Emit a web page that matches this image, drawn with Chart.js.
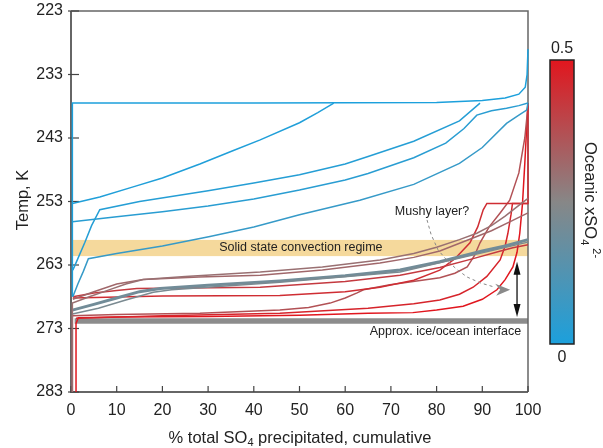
<!DOCTYPE html>
<html>
<head>
<meta charset="utf-8">
<script src="https://cdn.jsdelivr.net/npm/chart.js@4.4.1/dist/chart.umd.min.js"></script>
<style>
  html, body { margin: 0; padding: 0; background: #fff; }
  #wrap { width: 603px; height: 448px; }
</style>
</head>
<body>
<div id="wrap"><canvas id="chart" width="603" height="448"></canvas></div>
<script>
// axis ticks
const xTicks = [0, 10, 20, 30, 40, 50, 60, 70, 80, 90, 100];
const yTicks = [223, 233, 243, 253, 263, 273, 283];

// cooling paths: [% SO4 precipitated, temperature K]
const blue1 = [[0.3,268],[0.3,237.5],[40,237.5],[80,237.4],[90,237.1],[95,236.7],[98,236.1],[99.4,235],[99.8,233],[100,229]];
const blue2 = [[0.3,253.3],[6.3,252.3],[13.6,250.7],[20,249.3],[28.2,247.1],[35.4,245],[41.4,243.3],[50,240.6],[54,239],[57.5,237.5]];
const blue3 = [[0.4,263.8],[1.5,262],[3,259.5],[4.5,256.8],[6.3,254.3],[15,253],[30,251.3],[40,250.1],[50,248.8],[60,247.1],[65,245.9],[75,243.5],[85,240.3],[89.5,237.5]];
const blue4 = [[0.3,256.2],[10,255.4],[20,254.6],[30,253.7],[40,252.6],[50,251.2],[60,249.6],[65,248.6],[75,246.1],[82,243.8],[86,241.5],[88.8,239.4],[92,238.7],[95.3,238.3],[98,237.9],[100,237.5]];
const blue5 = [[0.4,268],[1.5,266],[2.7,264],[3.8,262],[10,261.2],[20,260],[30.4,258.5],[40,257],[50,255.1],[63.2,252.8],[75,250.3],[85,247],[90,244.5],[95.3,240.7],[98,239.4],[99.7,238.6],[100,237.5]];
const grey1 = [[0.3,283],[0.3,269],[4,268],[8,267],[12,266],[15.8,265.3],[25,264.8],[41.4,264.1],[55,263.3],[67.6,262.2],[75,261.2],[80,260.2],[85,259],[88.8,258],[92,256.8],[95,255.3],[98,253.6],[100,252.5]];
const grey2 = [[0.4,268.4],[5,267.2],[10,266],[15.8,265.3],[28,264.9],[41.4,264.6],[55,263.8],[67.6,262.7],[75,261.8],[80.7,260.8],[86.7,259.1],[92,257.6],[96,256.2],[100,254.8]];
const grey3 = [[0.3,270.7],[6,269.8],[12,268.5],[18,267.3],[22,266.9],[45.7,265.7],[72,264.1],[100,259.4]];
const grey4 = [[0.3,270.1],[5,269.2],[10,268.2],[15,267.2],[19.5,266.7],[30,266.2],[45.7,265.5],[60,264.7],[72,263.8],[80.7,262.5],[90,260.8],[95,260],[100,259]];
const red1 = [[0.4,268],[5,267.4],[10,267],[14.4,266.7],[41.4,266.5],[60,265.6],[72,264.6],[80.7,263.4],[88,262],[94,260.8],[96.7,260.3],[100,259.8]];
const red2 = [[0.4,268.2],[20,267.9],[45.7,267.8],[60,267.2],[67.6,266.5],[75,265.4],[80.7,263.8],[84,262],[87.3,259.5],[89,257],[90.2,254.3],[91,253.3],[100,253.3],[100,237.5]];
const red3 = [[0.3,283],[0.3,271],[10,270.8],[28.2,270.6],[45.7,270.1],[52,269.7],[56.7,269],[60,268.2],[62.6,267.4],[64,266.9],[69.8,266.1],[80.7,265],[84,264.3],[86.7,263.3],[88.3,261.5],[89.5,259.5],[91.5,257],[93.9,254.8],[96,252.8],[98,248.5],[99.3,243],[100,238]];
const red4 = [[1.1,271.4],[20,271],[45.7,270.6],[65,269.8],[75,269.1],[80.7,268.5],[85,267.6],[88,266.5],[91,264.8],[93.9,262.2],[95,260],[95.6,258],[96.3,255],[96.6,253.3],[100,253.3]];
const red5 = [[1.1,283],[1.1,272.2],[1.6,271.3],[10,271.2],[30,271.1],[50,270.9],[65,270.6],[74.8,270.5],[80,270.1],[85.8,269.5],[90,268.4],[93.2,266.9],[95,265.3],[96.7,263.3],[97.6,261],[98.2,258],[98.8,253.3],[99.3,247],[99.7,241.5],[100,237.5]];

const paths = [blue1, blue2, blue3, blue4, blue5, grey1, grey2, grey3, grey4, red1, red2, red3, red4, red5];
// oceanic xSO4 of each path
const xso4 = [0, 0.01, 0.02, 0.03, 0.06, 0.3, 0.32, 0.22, 0.2, 0.42, 0.45, 0.37, 0.47, 0.5];

const BLUE = [28, 160, 220], GREY = [135, 135, 135], RED = [225, 22, 30];
function colourFor(v) {
  let a, b, t;
  if (v <= 0.25) { a = BLUE; b = GREY; t = v / 0.25; }
  else { a = GREY; b = RED; t = (v - 0.25) / 0.25; }
  const c = a.map((ch, i) => Math.round(ch + (b[i] - ch) * t));
  return `rgb(${c[0]},${c[1]},${c[2]})`;
}

const FONT = "'Liberation Sans', Arial, sans-serif";

const datasets = paths.map((p, i) => ({
  data: p.map(([x, y]) => ({ x, y })),
  showLine: true,
  borderColor: colourFor(xso4[i]),
  borderWidth: paths[i] === grey4 ? 3 : 1.5,
  pointRadius: 0,
  tension: 0,
  clip: 4
}));

function drawArrowHead(ctx, x, y, dir, len, half) {
  ctx.beginPath();
  ctx.moveTo(x, y);
  ctx.lineTo(x - half, y - dir * len);
  ctx.lineTo(x + half, y - dir * len);
  ctx.closePath();
  ctx.fill();
}

const decor = {
  id: 'decor',
  beforeDatasetsDraw(chart) {
    const { ctx, chartArea: a, scales: { x, y } } = chart;
    ctx.save();
    // convection band
    const b1 = y.getPixelForValue(259.05), b2 = y.getPixelForValue(261.6);
    ctx.fillStyle = '#f5d99c';
    ctx.fillRect(a.left, b1, a.right - a.left, b2 - b1);
    // ice/ocean interface
    ctx.strokeStyle = '#8c8c8c';
    ctx.lineWidth = 5.5;
    ctx.beginPath();
    ctx.moveTo(x.getPixelForValue(0.8), y.getPixelForValue(271.8));
    ctx.lineTo(a.right, y.getPixelForValue(271.8));
    ctx.stroke();
    // frame
    ctx.strokeStyle = '#666';
    ctx.lineWidth = 1.5;
    ctx.beginPath();
    ctx.moveTo(a.left, a.top);
    ctx.lineTo(a.right, a.top);
    ctx.lineTo(a.right, a.bottom);
    ctx.stroke();
    ctx.lineWidth = 2;
    ctx.beginPath();
    ctx.moveTo(a.left, a.top);
    ctx.lineTo(a.left, a.bottom);
    ctx.lineTo(a.right, a.bottom);
    ctx.stroke();
    // ticks
    ctx.strokeStyle = '#444';
    ctx.lineWidth = 1.2;
    yTicks.forEach(v => {
      const py = y.getPixelForValue(v);
      ctx.beginPath(); ctx.moveTo(a.left - 3, py); ctx.lineTo(a.left + 8, py); ctx.stroke();
    });
    xTicks.forEach(v => {
      const px = x.getPixelForValue(v);
      ctx.beginPath(); ctx.moveTo(px, a.bottom); ctx.lineTo(px, a.bottom - 6); ctx.stroke();
    });
    ctx.restore();
  },
  afterDatasetsDraw(chart) {
    const { ctx, chartArea: a, scales: { x, y } } = chart;
    const P = (vx, vy) => [x.getPixelForValue(vx), y.getPixelForValue(vy)];
    ctx.save();
    ctx.fillStyle = '#222';
    ctx.font = `12.5px ${FONT}`;
    ctx.textBaseline = 'middle';
    ctx.textAlign = 'center';
    let [tx, ty] = P(50.3, 260.25);
    ctx.fillText('Solid state convection regime', tx, ty);
    [tx, ty] = P(79, 254.65);
    ctx.fillText('Mushy layer?', tx, ty);
    ctx.textAlign = 'right';
    [tx, ty] = P(98.5, 273.55);
    ctx.fillText('Approx. ice/ocean interface', tx, ty);

    // dashed arrow
    const dpts = [[77.9,255.9],[78.8,258.2],[80.3,260.6],[82.3,262.3],[84.6,263.8],[86.7,264.9],[89.5,265.8],[92.3,266.4]];
    ctx.strokeStyle = '#888';
    ctx.lineWidth = 1;
    ctx.setLineDash([3, 3]);
    ctx.beginPath();
    dpts.forEach((d, i) => { const [px, py] = P(d[0], d[1]); i ? ctx.lineTo(px, py) : ctx.moveTo(px, py); });
    ctx.stroke();
    ctx.setLineDash([]);
    const [hx, hy] = P(96.1, 266.9);
    ctx.fillStyle = '#8a8a8a';
    ctx.beginPath();
    ctx.moveTo(hx, hy);
    ctx.lineTo(hx - 15, hy - 6);
    ctx.lineTo(hx - 10, hy);
    ctx.lineTo(hx - 14, hy + 6);
    ctx.closePath();
    ctx.fill();

    // double arrow
    const [ax, ayTop] = P(97.6, 262.5);
    const ayBot = y.getPixelForValue(271.2);
    ctx.strokeStyle = '#111';
    ctx.fillStyle = '#111';
    ctx.lineWidth = 1.3;
    ctx.beginPath(); ctx.moveTo(ax, ayTop + 8); ctx.lineTo(ax, ayBot - 8); ctx.stroke();
    drawArrowHead(ctx, ax, ayTop, -1, 13, 3.5);
    drawArrowHead(ctx, ax, ayBot, 1, 13, 3.5);

    // axis titles
    ctx.fillStyle = '#222';
    ctx.textAlign = 'left';
    ctx.textBaseline = 'alphabetic';
    const t1 = '% total SO', t2 = '4', t3 = ' precipitated, cumulative';
    ctx.font = `16.5px ${FONT}`;
    const w1 = ctx.measureText(t1).width, w3 = ctx.measureText(t3).width;
    ctx.font = `11px ${FONT}`;
    const w2 = ctx.measureText(t2).width;
    let sx = 300 - (w1 + w2 + w3) / 2;
    const base = 443;
    ctx.font = `16.5px ${FONT}`;
    ctx.fillText(t1, sx, base);
    ctx.font = `11px ${FONT}`;
    ctx.fillText(t2, sx + w1, base + 3);
    ctx.font = `16.5px ${FONT}`;
    ctx.fillText(t3, sx + w1 + w2, base);

    ctx.save();
    ctx.translate(28, 200);
    ctx.rotate(-Math.PI / 2);
    ctx.textAlign = 'center';
    ctx.fillText('Temp, K', 0, 0);
    ctx.restore();

    // colour bar
    const cx0 = 550, cx1 = 574, cy0 = 60, cy1 = 344;
    const g = ctx.createLinearGradient(0, cy0, 0, cy1);
    g.addColorStop(0, colourFor(0.5));
    g.addColorStop(0.5, colourFor(0.25));
    g.addColorStop(1, colourFor(0));
    ctx.fillStyle = g;
    ctx.fillRect(cx0, cy0, cx1 - cx0, cy1 - cy0);
    ctx.strokeStyle = '#222';
    ctx.lineWidth = 1.5;
    ctx.strokeRect(cx0, cy0, cx1 - cx0, cy1 - cy0);
    ctx.fillStyle = '#222';
    ctx.font = `16px ${FONT}`;
    ctx.textAlign = 'center';
    ctx.textBaseline = 'middle';
    ctx.fillText('0.5', 562, 49);
    ctx.fillText('0', 562, 358);

    ctx.save();
    ctx.translate(585, 200);
    ctx.rotate(Math.PI / 2);
    ctx.textAlign = 'left';
    ctx.textBaseline = 'alphabetic';
    const c1 = 'Oceanic xSO', c2 = '4', c3 = '2-';
    ctx.font = `16.5px ${FONT}`;
    const cw1 = ctx.measureText(c1).width;
    ctx.font = `11px ${FONT}`;
    const cw2 = ctx.measureText(c2).width, cw3 = ctx.measureText(c3).width;
    const cs = -(cw1 + cw2 + 3 + cw3) / 2;
    ctx.font = `16.5px ${FONT}`;
    ctx.fillText(c1, cs, 0);
    ctx.font = `11px ${FONT}`;
    ctx.fillText(c2, cs + cw1, 4);
    ctx.fillText(c3, cs + cw1 + cw2 + 3, -8);
    ctx.restore();

    ctx.restore();
  }
};

new Chart(document.getElementById('chart').getContext('2d'), {
  type: 'scatter',
  data: { datasets },
  options: {
    responsive: false,
    animation: false,
    layout: { padding: { left: 0, right: 75, top: 11, bottom: 0 } },
    plugins: { legend: { display: false }, tooltip: { enabled: false } },
    scales: {
      x: {
        type: 'linear', min: 0, max: 100,
        afterBuildTicks: s => { s.ticks = xTicks.map(v => ({ value: v })); },
        afterFit: s => { s.height = 56; s.paddingLeft = 0; s.paddingRight = 0; },
        grid: { display: false, drawTicks: false },
        border: { display: false },
        ticks: { color: '#222', padding: 9, font: { family: FONT, size: 16 } }
      },
      y: {
        type: 'linear', min: 223, max: 283, reverse: true,
        afterBuildTicks: s => { s.ticks = yTicks.map(v => ({ value: v })); },
        afterFit: s => { s.width = 71; s.paddingTop = 0; s.paddingBottom = 0; },
        grid: { display: false, drawTicks: false },
        border: { display: false },
        ticks: { color: '#222', padding: 8, font: { family: FONT, size: 16 } }
      }
    }
  },
  plugins: [decor]
});
</script>
</body>
</html>
